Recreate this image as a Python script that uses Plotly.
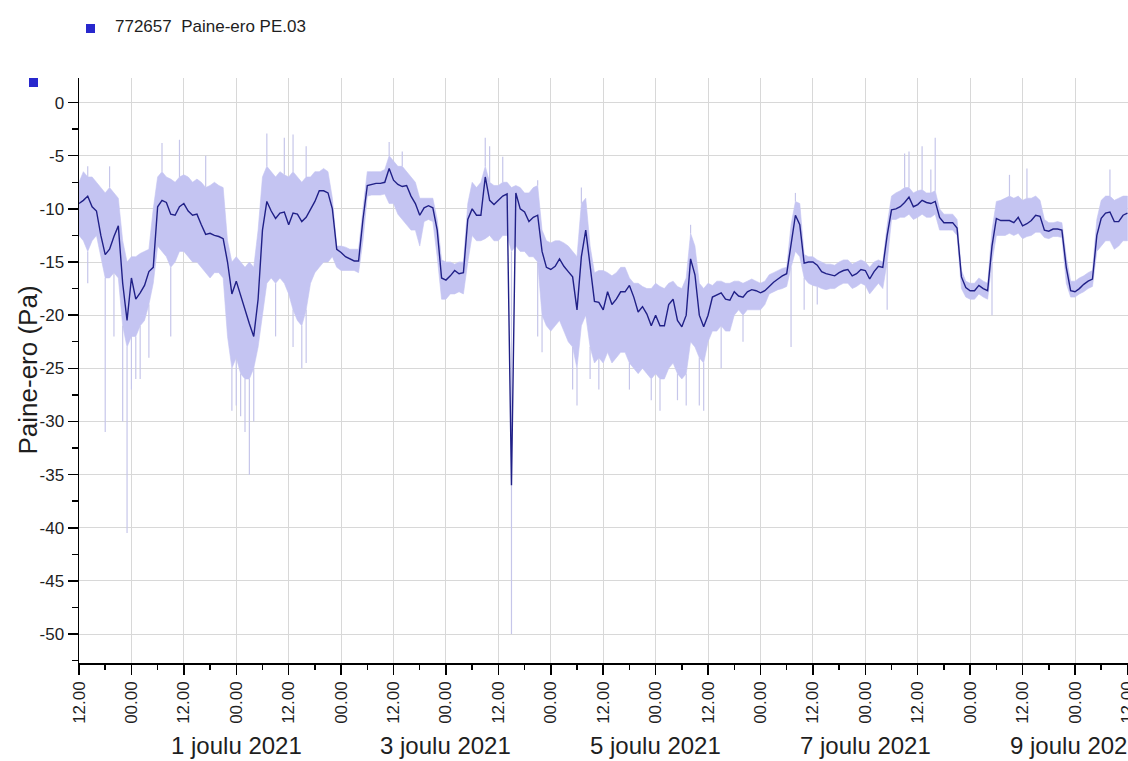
import pandas as pd
import plotly.graph_objects as go

# ---------------- data (hourly, from 2021-11-29 12:00) ----------------
START = "2021-11-29 12:00"
N_HOURS = 241

# smoothed series (dark line)
mid = [
    -9.5, -9.2, -8.8, -9.8, -10.2, -12.5, -14.3, -13.8, -12.6, -11.6, -17.0, -20.5,
    -16.5, -18.5, -17.9, -17.2, -15.9, -15.5, -9.8, -9.2, -9.4, -10.5, -10.6, -9.8,
    -9.5, -10.2, -10.6, -10.5, -11.5, -12.4, -12.3, -12.5, -12.6, -12.8, -15.0, -18.0,
    -16.8, -18.2, -19.4, -20.8, -22.0, -18.5, -12.0, -9.3, -10.2, -10.9, -10.4, -10.3,
    -11.5, -10.4, -10.5, -11.2, -10.8, -10.0, -9.3, -8.3, -8.3, -8.5, -10.0, -13.8,
    -14.1, -14.5, -14.7, -14.9, -14.9, -11.0, -7.8, -7.7, -7.6, -7.6, -7.5, -6.2,
    -7.3, -7.7, -7.9, -7.8, -8.8, -9.5, -10.6, -9.9, -9.7, -9.9, -12.0, -16.5,
    -16.7, -16.3, -15.8, -16.1, -16.0, -11.0, -10.0, -10.6, -10.6, -7.0, -9.2, -9.6,
    -9.2, -8.8, -8.6, -36.0, -8.5, -10.0, -10.3, -11.2, -10.8, -10.6, -14.0, -15.5,
    -15.7, -15.4, -14.7, -15.4, -15.9, -16.4, -19.5, -14.5, -12.0, -15.5, -18.7, -18.8,
    -19.5, -17.8, -19.0, -18.5, -17.8, -17.8, -17.2, -18.3, -19.7, -19.2, -19.9, -21.0,
    -20.0, -21.0, -21.0, -19.0, -18.5, -20.5, -21.1, -20.0, -14.7, -16.2, -20.0, -21.1,
    -20.0, -18.3, -18.1, -17.9, -18.5, -18.6, -17.8, -18.2, -18.3, -17.8, -17.6, -17.7,
    -17.9, -17.7, -17.3, -16.9, -16.6, -16.3, -16.1, -13.5, -10.6, -11.5, -15.1, -15.0,
    -15.0, -15.3, -15.9, -16.1, -16.2, -16.3, -16.0, -15.8, -15.7, -16.3, -16.1, -15.7,
    -15.8, -16.6, -15.9, -15.4, -15.5, -12.5, -10.1, -10.0, -9.8, -9.4, -8.9, -9.8,
    -9.6, -9.2, -9.4, -9.5, -9.3, -10.8, -11.3, -11.3, -11.3, -11.8, -16.4, -17.4,
    -17.7, -17.7, -17.2, -17.5, -17.7, -13.5, -10.9, -11.1, -11.1, -11.1, -11.3, -10.8,
    -11.6, -11.4, -11.1, -10.6, -10.7, -12.0, -12.1, -11.9, -11.9, -12.0, -15.5, -17.7,
    -17.8, -17.5, -17.1, -16.8, -16.6, -12.5, -10.9, -10.4, -10.3, -11.2, -11.2, -10.6,
    -10.4,
]

# raw series envelope (light band): upper and lower
upper = [
    -7.5, -6.5, -7.0, -7.0, -7.5, -8.0, -8.5, -8.0, -8.5, -9.0, -13.0, -15.0,
    -14.5, -14.5, -14.2, -14.0, -13.8, -10.0, -7.0, -6.5, -7.0, -7.2, -7.5, -7.0,
    -6.8, -7.0, -7.5, -7.2, -7.5, -8.0, -7.8, -7.5, -7.8, -8.0, -13.0, -15.0,
    -14.5, -15.0, -15.5, -15.0, -15.5, -12.0, -7.0, -6.0, -6.5, -7.0, -6.5, -6.8,
    -7.0, -6.5, -7.0, -7.5, -7.0, -7.0, -6.5, -6.5, -6.2, -6.5, -9.0, -13.5,
    -13.5, -13.6, -13.8, -13.8, -13.8, -10.0, -6.5, -6.5, -6.5, -6.5, -6.3, -5.0,
    -5.5, -6.0, -6.0, -6.5, -7.0, -7.5, -9.0, -9.0, -9.0, -9.0, -11.0, -14.8,
    -15.0, -15.0, -15.2, -15.0, -15.0, -9.5, -7.5, -8.0, -7.5, -6.0, -7.5, -7.8,
    -7.8, -7.5, -7.5, -8.0, -7.8, -8.0, -8.5, -8.5, -8.0, -7.8, -12.0, -13.0,
    -13.2, -13.0, -13.0, -13.2, -13.5, -14.0, -14.5, -9.5, -9.0, -13.5, -16.0, -15.8,
    -15.8, -16.0, -16.3, -16.0, -15.5, -15.5, -16.5, -17.0, -17.0, -17.3, -17.5, -17.5,
    -17.0, -17.3, -17.5, -17.0, -16.8, -17.3, -17.5, -16.5, -12.3, -13.5, -17.0, -17.5,
    -17.0, -17.2, -16.8, -16.8, -17.0, -17.0, -16.8, -16.8, -17.0, -16.8, -16.6, -16.8,
    -17.0, -16.8, -16.2, -16.0, -15.8, -15.6, -15.5, -11.5, -9.3, -9.5, -14.3, -14.5,
    -14.5, -14.8, -15.0, -15.2, -15.2, -15.3, -15.0, -14.8, -14.8, -15.2, -15.0, -14.8,
    -15.0, -15.5, -15.0, -14.8, -15.0, -11.5, -8.8, -8.5, -8.3, -8.0, -8.0, -8.5,
    -8.3, -8.2, -8.5, -8.5, -8.3, -10.0, -10.5, -10.5, -10.5, -11.0, -15.8, -16.8,
    -17.0, -17.0, -16.5, -16.8, -17.0, -12.0, -9.3, -9.2, -9.0, -8.8, -9.0, -8.8,
    -9.2, -9.0, -9.0, -8.8, -9.2, -11.0, -11.3, -11.3, -11.2, -11.3, -14.5, -16.8,
    -16.8, -16.5, -16.3, -16.0, -15.8, -11.0, -9.2, -8.8, -8.8, -9.2, -9.0, -8.8,
    -8.8,
]

lower = [
    -12.5, -13.0, -14.0, -13.0, -12.5, -14.5, -16.5, -16.5, -16.0, -16.5, -21.0, -23.0,
    -22.0, -22.0, -21.0, -20.5, -19.0, -17.0, -13.5, -14.0, -14.5, -15.5, -15.0, -14.0,
    -14.0, -14.5, -15.0, -15.0, -15.5, -16.0, -16.5, -16.0, -16.0, -16.5, -22.0, -25.0,
    -24.0, -25.5, -26.0, -26.0, -25.0, -23.0, -20.0, -17.0, -16.5, -17.0, -16.5, -17.0,
    -18.0, -19.5, -20.5, -21.0, -19.5, -17.0, -16.0, -15.5, -15.0, -15.0, -14.5, -15.5,
    -15.8, -15.8, -15.8, -15.8, -16.0, -13.0, -8.8, -8.7, -8.7, -8.7, -8.6, -9.5,
    -9.5, -10.5, -11.0, -11.5, -12.0, -12.0, -13.5, -11.2, -11.0, -11.2, -14.5, -18.5,
    -18.5, -18.0, -18.0, -17.8, -18.0, -15.0, -12.5, -13.0, -13.0, -12.8, -12.5, -13.0,
    -13.0, -12.5, -12.5, -14.0, -13.5, -14.0, -14.0, -14.5, -14.5, -15.0, -20.0, -21.0,
    -21.5, -21.0, -20.5, -21.5, -22.5, -23.0, -25.0, -21.0, -20.0, -23.0, -24.5, -24.0,
    -24.5, -23.5, -24.5, -24.0, -23.5, -23.5, -24.5, -25.0, -25.5, -25.0, -25.5, -26.0,
    -25.5, -26.0, -26.0, -25.0, -24.5, -25.5, -26.0, -25.5, -22.5, -23.0, -24.0, -24.5,
    -22.5, -21.5, -21.5, -21.0, -21.5, -21.5, -20.0, -19.5, -20.0, -19.5, -19.5, -19.5,
    -19.5, -19.0, -18.0, -17.8, -17.6, -17.5, -17.3, -15.5, -14.0, -14.5, -16.5, -17.0,
    -17.2, -17.3, -17.5, -17.6, -17.5, -17.5, -17.2, -17.0, -17.0, -17.5, -17.3, -17.0,
    -17.2, -18.0, -17.5, -17.0, -17.5, -15.0, -11.0, -11.0, -10.8, -10.8, -10.5, -11.0,
    -10.8, -10.5, -10.8, -10.8, -10.5, -12.0, -12.0, -12.0, -12.0, -12.5, -17.5, -18.3,
    -18.5, -18.5, -18.0, -18.3, -18.5, -15.0, -12.5, -12.5, -12.5, -12.3, -12.5, -12.3,
    -12.8, -12.6, -12.5, -12.2, -12.2, -12.7, -12.8, -12.6, -12.6, -12.7, -17.0, -18.3,
    -18.3, -18.0, -17.8, -17.5, -17.3, -14.0, -13.5, -13.0, -13.0, -13.8, -13.5, -13.0,
    -13.0,
]

# isolated spikes of the raw series (hour index, value)
spike_low_hours = [2, 6, 8, 10, 11, 12, 13, 14, 16, 21, 35, 36, 37, 38, 39, 40, 45,
                   49, 51, 52, 99, 105, 106, 113, 114, 117, 119, 126, 131, 133, 137,
                   139, 142, 143, 147, 152, 163, 166, 169, 185, 209]
spike_low_vals = [-17, -31, -22, -30, -40.5, -27, -26, -26, -24, -22, -29, -28.5,
                  -29.5, -31, -35, -30, -22, -23, -25, -24.5, -50, -22, -23.5, -27,
                  -28.5, -26, -27, -27, -28, -29, -28, -28.5, -28.5, -29, -25, -22.5,
                  -23, -19.5, -19, -19.5, -20]
spike_up_hours = [2, 7, 19, 23, 29, 43, 47, 49, 52, 71, 74, 93, 94, 97, 105, 115,
                  140, 164, 189, 190, 193, 195, 196, 213, 217, 236]
spike_up_vals = [-6, -6, -3.8, -3.5, -5, -2.9, -3.3, -3, -4.1, -3.7, -4.6, -3.3,
                 -4.1, -5.1, -7.3, -8, -11.5, -8.5, -4.8, -4.6, -4.1, -6.3, -3.3,
                 -6.8, -6.2, -6.3]

# axis texts
y_tickvals = [0, -5, -10, -15, -20, -25, -30, -35, -40, -45, -50]
y_ticktext = ["0", "-5", "-10", "-15", "-20", "-25", "-30", "-35", "-40", "-45", "-50"]
date_label_times = ["2021-12-01 00:00", "2021-12-03 00:00", "2021-12-05 00:00",
                    "2021-12-07 00:00", "2021-12-09 00:00"]
date_label_texts = ["1 joulu 2021", "3 joulu 2021", "5 joulu 2021",
                    "7 joulu 2021", "9 joulu 2021"]
series_name = "772657\u00a0\u00a0Paine-ero PE.03"
y_title = "Paine-ero (Pa)"

# ---------------- figure ----------------
W, H = 1128, 761
ML, MR, MT, MB = 79, 0, 78, 98
PW, PH = W - ML - MR, H - MT - MB


def px_x(p):  # page pixel -> paper x
    return (p - ML) / PW


def px_y(p):  # page pixel -> paper y
    return (H - MB - p) / PH


times = pd.date_range(START, periods=N_HOURS, freq="h")
tlist = list(times)
x_end = times[-1] + pd.Timedelta(minutes=8)

FONT = "Liberation Sans, Arial, sans-serif"
BAND = "rgb(196,196,242)"
SPIKE = "rgb(198,198,234)"
DARK = "rgb(32,32,135)"
BLUE = "rgb(40,40,205)"
TXT = "#1e1e1e"

fig = go.Figure()

# light band (envelope of raw values)
fig.add_trace(go.Scatter(
    x=tlist + tlist[::-1],
    y=upper + lower[::-1],
    fill="toself", fillcolor=BAND, mode="lines",
    line=dict(width=0.6, color=BAND),
    hoverinfo="skip", showlegend=False,
))

# spikes
sx, sy = [], []
for h, v in zip(spike_low_hours, spike_low_vals):
    sx += [tlist[h], tlist[h], None]
    sy += [lower[h], v, None]
for h, v in zip(spike_up_hours, spike_up_vals):
    sx += [tlist[h], tlist[h], None]
    sy += [upper[h], v, None]
fig.add_trace(go.Scatter(
    x=sx, y=sy, mode="lines", line=dict(width=1.2, color=SPIKE),
    connectgaps=False, hoverinfo="skip", showlegend=False,
))

# dark line
fig.add_trace(go.Scatter(
    x=tlist, y=mid, mode="lines", line=dict(width=1.4, color=DARK),
    showlegend=False, name=series_name,
))

# date labels under the hour ticks
for t, txt in zip(date_label_times, date_label_texts):
    fig.add_annotation(
        x=t, y=px_y(730), xref="x", yref="paper", text=txt, showarrow=False,
        xanchor="center", yanchor="top",
        font=dict(family=FONT, size=24, color=TXT),
    )

# y-axis title
fig.add_annotation(
    x=px_x(27), y=0.5, xref="paper", yref="paper", text=y_title,
    showarrow=False, textangle=-90, xanchor="center", yanchor="middle",
    font=dict(family=FONT, size=26, color=TXT),
)

# legend (square + text)
fig.add_shape(type="rect", xref="paper", yref="paper",
              x0=px_x(86), x1=px_x(95), y0=px_y(33), y1=px_y(24),
              fillcolor=BLUE, line=dict(width=0))
fig.add_annotation(
    x=px_x(113), y=px_y(26), xref="paper", yref="paper", text=series_name,
    showarrow=False, xanchor="left", yanchor="middle",
    font=dict(family=FONT, size=17, color=TXT),
)

# small square at top-left
fig.add_shape(type="rect", xref="paper", yref="paper",
              x0=px_x(29), x1=px_x(38), y0=px_y(87), y1=px_y(78),
              fillcolor=BLUE, line=dict(width=0))

fig.update_layout(
    width=W, height=H,
    margin=dict(l=ML, r=MR, t=MT, b=MB, autoexpand=False),
    paper_bgcolor="white", plot_bgcolor="white",
    font=dict(family=FONT, size=17, color=TXT),
    showlegend=False,
)

fig.update_xaxes(
    type="date", range=[tlist[0], x_end], automargin=False,
    tick0=START, dtick=12 * 3600 * 1000, tickformat="%H.%M",
    tickangle=-90, ticks="outside", ticklen=10, tickwidth=1.5, tickcolor="black",
    tickfont=dict(family=FONT, size=17, color=TXT), ticklabeloverflow="allow",
    showgrid=True, gridcolor="rgb(216,216,216)", gridwidth=1,
    showline=True, linecolor="black", linewidth=1.5,
    minor=dict(dtick=6 * 3600 * 1000, ticks="outside", ticklen=5,
               tickcolor="black", showgrid=False),
    zeroline=False, fixedrange=True,
)

fig.update_yaxes(
    range=[-52.72, 2.31], automargin=False,
    tickmode="array", tickvals=y_tickvals, ticktext=y_ticktext,
    ticks="outside", ticklen=10, tickwidth=1.5, tickcolor="black",
    tickfont=dict(family=FONT, size=17, color=TXT),
    showgrid=True, gridcolor="rgb(216,216,216)", gridwidth=1,
    showline=True, linecolor="black", linewidth=1.5,
    minor=dict(dtick=2.5, tick0=0, ticks="outside", ticklen=6,
               tickcolor="black", showgrid=False),
    zeroline=False, fixedrange=True,
)

fig.write_html(
    "out.html",
    config={"displayModeBar": False, "staticPlot": True},
    post_script="document.body.style.margin='0';document.body.style.overflow='hidden';",
)
